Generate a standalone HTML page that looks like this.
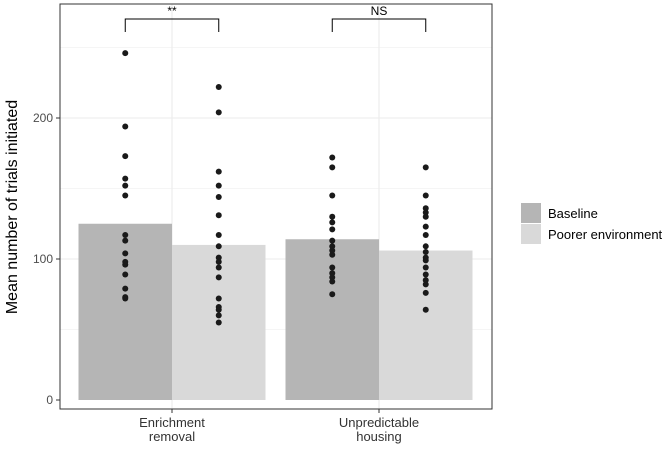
<!DOCTYPE html>
<html><head><meta charset="utf-8"><style>
body{margin:0;background:#fff;font-family:"Liberation Sans",sans-serif}
</style></head><body>
<svg id="c" width="671" height="453" font-family="Liberation Sans, sans-serif"></svg>
<script>
const groups=["Enrichment\nremoval","Unpredictable\nhousing"];
const series=["Baseline","Poorer environment"];
const means=[[125,110],[114,106]];
const pts=[
 [[246,194,173,157,152,145,117,113,104,98,96,89,79,73,72],[222,204,162,152,144,131,117,109,101,98,94,87,72,66,64,60,55]],
 [[172,165,145,130,126,121,113,109,106,103,94,90,87,84,75],[165,145,136,133,130,123,117,109,105,101,99,94,89,85,82,76,64]]
];
const yTicks=[0,100,200];
const sig=["**","NS"];
const colors=["#b5b5b5","#d9d9d9"];
const svg=document.getElementById('c');const NS='http://www.w3.org/2000/svg';
function el(t,a,p){const e=document.createElementNS(NS,t);for(const k in a)e.setAttribute(k,a[k]);(p||svg).appendChild(e);return e;}
const L=60,R=492,T=4,B=409;
const y=v=>400-v*1.41;
const gx=i=>172+i*207; // group center
const bw=93.5;
let r=el('rect',{x:L,y:T,width:R-L,height:B-T,fill:'#fff'});

for(let v=50;v<=250;v+=50){const g=el('line',{x1:L,x2:R,y1:y(v),y2:y(v),stroke:'#ebebeb','stroke-width':v%100?0.6:1.1});}
groups.forEach((g,i)=>{const l=el('line',{x1:gx(i),x2:gx(i),y1:T,y2:B,stroke:'#ebebeb','stroke-width':1.1});});
groups.forEach((g,i)=>{
 series.forEach((s,j)=>{
  const x0=gx(i)-bw+j*bw;
  const b=el('rect',{x:x0,y:y(means[i][j]),width:bw,height:y(0)-y(means[i][j]),fill:colors[j]});
  
  
  pts[i][j].forEach(v=>{const c=el('circle',{cx:x0+bw/2,cy:y(v),r:3,fill:'#1a1a1a'});
   
   });
 });
 const x1=gx(i)-bw/2,x2=gx(i)+bw/2,by=19;
 const br=el('path',{d:`M${x1},${by+13}V${by}H${x2}V${by+13}`,fill:'none',stroke:'#000','stroke-width':1});
 
 const st=el('text',{x:gx(i),y:by-4,'text-anchor':'middle','font-size':12});st.textContent=sig[i];
 
 g.split('\n').forEach((ln,k)=>{const t=el('text',{x:gx(i),y:427+k*14,'text-anchor':'middle','font-size':13,fill:'#333'});t.textContent=ln;
  });
 el('line',{x1:gx(i),x2:gx(i),y1:B,y2:B+4,stroke:'#333'});
});
yTicks.forEach(v=>{const t=el('text',{x:53,y:y(v)+4,'text-anchor':'end','font-size':12,fill:'#4d4d4d'});t.textContent=v;
 
 el('line',{x1:56,x2:L,y1:y(v),y2:y(v),stroke:'#333'});});
const fr=el('rect',{x:L,y:T,width:R-L,height:B-T,fill:'none',stroke:'#333','stroke-width':1});

const yt=el('text',{transform:'translate(17,207) rotate(-90)','text-anchor':'middle','font-size':16});yt.textContent='Mean number of trials initiated';

series.forEach((s,j)=>{
 const k=el('rect',{x:521,y:203+j*21,width:20,height:20,fill:colors[j]});
 
 const t=el('text',{x:548,y:218+j*21,'font-size':13});t.textContent=s;
 
});
</script>
</body></html>
